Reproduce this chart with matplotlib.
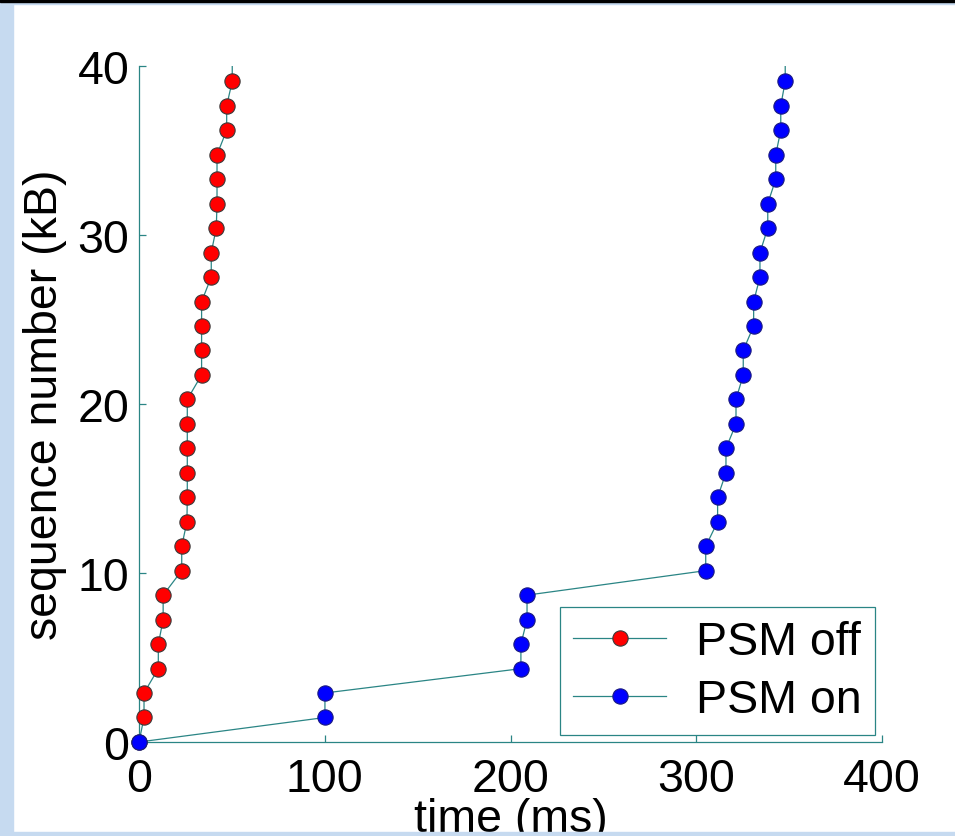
import matplotlib
matplotlib.use("Agg")
import matplotlib.pyplot as plt
from matplotlib.lines import Line2D
from matplotlib.patches import Rectangle

# sequence numbers (kB), last value only continues the line past the top
seq_kb = [0.00, 1.45, 2.90, 4.34, 5.79, 7.24, 8.69, 10.14, 11.58, 13.03,
          14.48, 15.93, 17.38, 18.82, 20.27, 21.72, 23.17, 24.62, 26.06,
          27.51, 28.96, 30.41, 31.86, 33.30, 34.75, 36.20, 37.65, 39.10, 40.54]

# time (ms) for each segment
t_psm_off = [0.0, 2.7, 2.7, 10.4, 10.4, 13.0, 13.0, 23.0, 23.0, 25.8,
             26.0, 26.0, 26.0, 26.0, 26.0, 33.7, 33.7, 33.7, 33.7, 38.9,
             38.9, 41.6, 42.0, 42.0, 42.0, 47.2, 47.2, 50.2, 50.2]
t_psm_on = [0.0, 100.1, 100.1, 205.6, 205.6, 208.9, 208.9, 305.1, 305.1, 311.5,
            311.5, 316.0, 316.0, 321.4, 321.4, 325.3, 325.3, 330.9, 330.9, 334.3,
            334.3, 338.5, 338.5, 342.8, 342.8, 345.5, 345.5, 347.9, 347.9]

labels = ["PSM off", "PSM on"]
n_marks = 28

plt.rcParams['font.family'] = ['Liberation Sans', 'DejaVu Sans']
fs = 33.5
line_col = '#2a8585'
edge_col = '#3a3a3a'

fig = plt.figure(figsize=(9.55, 8.37), dpi=100)
fig.patch.set_facecolor('white')
ax = fig.add_axes([139/955, 94/837, 743/955, 676/837])

for t, col in [(t_psm_off, 'red'), (t_psm_on, 'blue')]:
    ax.plot(t, seq_kb, color=line_col, lw=0.9, zorder=2)
    ax.plot(t[:n_marks], seq_kb[:n_marks], 'o', ms=11, mfc=col,
            mec=edge_col if col == 'red' else '#1a1a80', mew=0.8,
            clip_on=False, zorder=3)

ax.set_xlim(0, 400)
ax.set_ylim(0, 40)
ax.set_xticks([0, 100, 200, 300, 400])
ax.set_yticks([0, 10, 20, 30, 40])
ax.spines['top'].set_visible(False)
ax.spines['right'].set_visible(False)
for s in ['left', 'bottom']:
    ax.spines[s].set_color(line_col)
    ax.spines[s].set_linewidth(0.9)
ax.tick_params(direction='in', length=5, width=0.9, color=line_col,
               labelsize=fs, labelcolor='black')
ax.tick_params(axis='x', pad=11)
ax.tick_params(axis='y', pad=7)

ax.set_xlabel("time (ms)", fontsize=fs)
ax.set_ylabel("sequence number (kB)", fontsize=fs)
ax.xaxis.set_label_coords(0.5, -0.082)
ax.yaxis.set_label_coords(-0.097, 0.5)

handles = [Line2D([], [], color=line_col, lw=0.9, marker='o', ms=11,
                  mfc=c, mec=edge_col if c == 'red' else '#1a1a80', mew=0.8)
           for c in ['red', 'blue']]
leg = ax.legend(handles, labels, loc='lower right', fontsize=fs,
                fancybox=False, framealpha=1, edgecolor=line_col,
                handlelength=2.0, handletextpad=0.65, labelspacing=0.3,
                borderpad=0.28, borderaxespad=0.15)
leg.get_frame().set_linewidth(0.9)

# light blue page border around the figure
border = '#c6daf0'
fig.add_artist(Rectangle((0, 0), 13/955, 1, transform=fig.transFigure,
                         color=border, zorder=10))
fig.add_artist(Rectangle((0, 0), 1, 4/837, transform=fig.transFigure,
                         color=border, zorder=10))
fig.add_artist(Rectangle((0, 1 - 5/837), 1, 5/837, transform=fig.transFigure,
                         color=border, zorder=10))
fig.add_artist(Rectangle((0, 1 - 3/837), 1, 3/837, transform=fig.transFigure,
                         color='black', zorder=11))

fig.savefig("out.png", dpi=100, facecolor=fig.get_facecolor())
